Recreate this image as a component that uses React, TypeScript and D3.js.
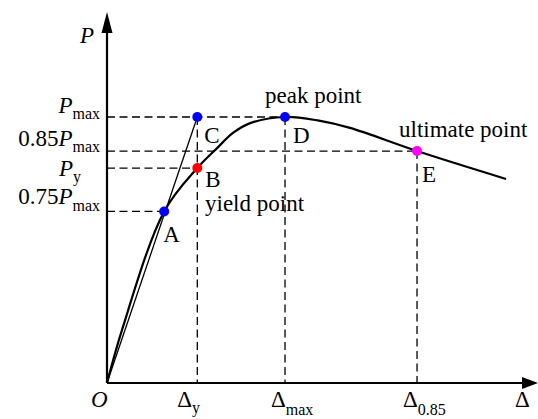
import React from "react";
import * as d3 from "d3";

const W = 538;
const H = 419;

// Load–displacement curve: displacement (relative units) and load (fraction of Pmax)
const dispValues = [0, 3.5, 13.3, 21, 25.6, 29.3, 33.3, 41.4, 49, 56.5, 72.1, 92.8];
const loadValues = [0, 0.2, 0.645, 0.808, 0.883, 0.94, 0.977, 1.0, 0.987, 0.959, 0.872, 0.767];

// Characteristic points on the curve
const pointNames = ["A", "B", "C", "D", "E"];
const pointDisp = [13.3, 21, 21, 41.4, 72.1];
const pointLoad = [0.645, 0.808, 1.0, 1.0, 0.872];

// Load levels marked on the vertical axis (drawn to the named point)
const loadLevelNames = ["Pmax", "0.85Pmax", "Py", "0.75Pmax"];
const loadLevelValues = [1.0, 0.872, 0.808, 0.645];
const loadLevelPoint = ["D", "E", "B", "A"];

// Displacement marks on the horizontal axis (drawn from the named point)
const dispMarkNames = ["Δy", "Δmax", "Δ0.85"];
const dispMarkValues = [21, 41.4, 72.1];
const dispMarkPoint = ["C", "D", "E"];

const pointColor: Record<string, string> = {
  A: "#0000ff",
  B: "#ff0000",
  C: "#0000ff",
  D: "#0000ff",
  E: "#ff00ff",
};

const FONT = '"Times New Roman", Times, "Liberation Serif", "Noto Serif", "DejaVu Serif", serif';
const FS = 23;
const SUB = 16;

export default function App() {
  const x = d3.scaleLinear().domain([0, 100]).range([107, 537]);
  const y = d3.scaleLinear().domain([0, 1]).range([383, 117]);

  const pts = pointNames.map((n, i) => ({ name: n, d: pointDisp[i], p: pointLoad[i] }));
  const byName = (n: string) => pts.find((p) => p.name === n)!;

  const curve = d3
    .line<number>()
    .x((_, i) => x(dispValues[i]))
    .y((v) => y(v))
    .curve(d3.curveCatmullRom.alpha(0.5));

  const secant = d3
    .line<[number, number]>()
    .x((d) => x(d[0]))
    .y((d) => y(d[1]));
  const C = byName("C");

  const x0 = x(0);
  const y0 = y(0);
  const yTop = 12;
  const xRight = 538;

  const yLabelParts: Record<string, { pre: string; sub: string; endX: number; dy0: number; dySub: number }> = {
    Pmax: { pre: "", sub: "max", endX: 100, dy0: -4, dySub: 6 },
    "0.85Pmax": { pre: "0.85", sub: "max", endX: 100, dy0: -5, dySub: 6 },
    Py: { pre: "", sub: "y", endX: 81, dy0: 8, dySub: 6 },
    "0.75Pmax": { pre: "0.75", sub: "max", endX: 100, dy0: -7, dySub: 7 },
  };

  const xLabelParts: Record<string, { sub: string; dx: number; dySub: number; base: number }> = {
    "Δy": { sub: "y", dx: -20, dySub: 6, base: 407 },
    "Δmax": { sub: "max", dx: -14, dySub: 8, base: 407 },
    "Δ0.85": { sub: "0.85", dx: -14, dySub: 8, base: 407 },
  };

  const pointLabelOffset: Record<string, [number, number]> = {
    A: [-1, 31],
    B: [8, 19],
    C: [7, 26],
    D: [8, 26],
    E: [5, 31],
  };

  const dash = "8,4.5";

  return (
    <svg
      width={W}
      height={H}
      style={{ position: "absolute", left: 0, top: 0, background: "#fff" }}
    >
      <g fontFamily={FONT}>
        {/* dashed guides from the load axis */}
        {loadLevelNames.map((n, i) => {
          const p = byName(loadLevelPoint[i]);
          return (
            <line
              key={"h" + n}
              x1={x0}
              x2={x(p.d)}
              y1={y(loadLevelValues[i])}
              y2={y(loadLevelValues[i])}
              stroke="#000"
              strokeWidth={1.3}
              strokeDasharray={dash}
            />
          );
        })}
        {/* dashed guides down to the displacement axis */}
        {dispMarkNames.map((n, i) => {
          const p = byName(dispMarkPoint[i]);
          return (
            <line
              key={"v" + n}
              x1={x(dispMarkValues[i])}
              x2={x(dispMarkValues[i])}
              y1={y(p.p)}
              y2={y0}
              stroke="#000"
              strokeWidth={1.3}
              strokeDasharray={dash}
            />
          );
        })}

        {/* secant stiffness line O–C */}
        <path
          d={secant([
            [0, 0],
            [C.d, C.p],
          ])!}
          fill="none"
          stroke="#000"
          strokeWidth={1.3}
        />
        {/* load–displacement curve */}
        <path d={curve(loadValues)!} fill="none" stroke="#000" strokeWidth={2.2} />

        {/* axes */}
        <line x1={x0} x2={x0} y1={y0} y2={yTop + 18} stroke="#000" strokeWidth={2.2} />
        <path d={`M${x0},${yTop} L${x0 - 5.5},${yTop + 21} L${x0 + 5.5},${yTop + 21} Z`} fill="#000" />
        <line x1={x0} x2={xRight - 14} y1={y0} y2={y0} stroke="#000" strokeWidth={2.2} />
        <path d={`M${xRight},${y0} L${xRight - 16},${y0 - 6} L${xRight - 16},${y0 + 6} Z`} fill="#000" />

        {/* points */}
        {pts.map((p) => (
          <circle key={p.name} cx={x(p.d)} cy={y(p.p)} r={5} fill={pointColor[p.name]} />
        ))}

        {/* point labels */}
        {pts.map((p) => {
          const [dx, dy] = pointLabelOffset[p.name];
          return (
            <text key={"l" + p.name} x={x(p.d) + dx} y={y(p.p) + dy} fontSize={FS}>
              {p.name}
            </text>
          );
        })}
        <text x={205} y={211} fontSize={FS}>yield point</text>
        <text x={265} y={103} fontSize={FS}>peak point</text>
        <text x={399} y={137} fontSize={FS}>ultimate point</text>

        {/* axis titles */}
        <text x={80} y={43} fontSize={FS} fontStyle="italic">P</text>
        <text x={91} y={407} fontSize={FS} fontStyle="italic">O</text>
        <text x={515} y={407} fontSize={FS}>Δ</text>

        {/* load level labels */}
        {loadLevelNames.map((n, i) => {
          const L = yLabelParts[n];
          return (
            <text
              key={"yl" + n}
              x={L.endX}
              y={y(loadLevelValues[i]) + L.dy0}
              fontSize={FS}
              textAnchor="end"
            >
              {L.pre}
              <tspan fontStyle="italic">P</tspan>
              <tspan fontSize={SUB} dy={L.dySub}>{L.sub}</tspan>
            </text>
          );
        })}

        {/* displacement labels */}
        {dispMarkNames.map((n, i) => {
          const L = xLabelParts[n];
          return (
            <text key={"xl" + n} x={x(dispMarkValues[i]) + L.dx} y={L.base} fontSize={FS}>
              Δ
              <tspan fontSize={SUB} dy={L.dySub}>{L.sub}</tspan>
            </text>
          );
        })}
      </g>
    </svg>
  );
}
